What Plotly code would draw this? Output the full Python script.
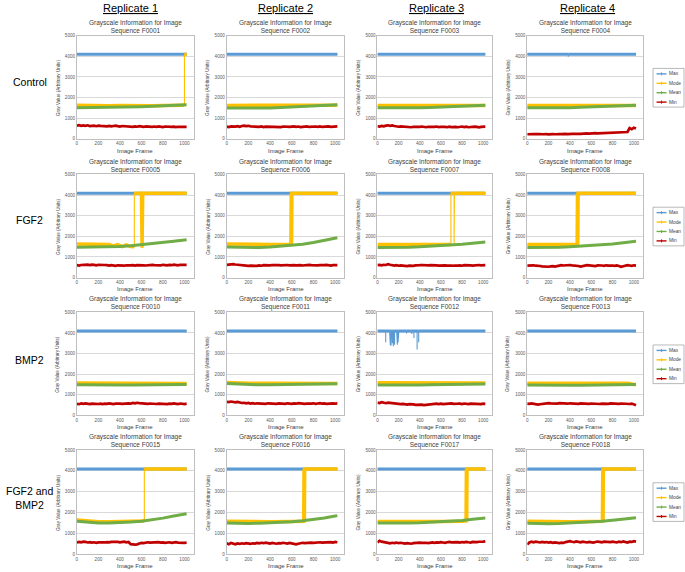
import plotly.graph_objects as go

# ---------------- data ----------------
frames = [0, 20, 40, 60, 80, 100, 120, 140, 160, 180, 200, 220, 240, 260, 280, 300, 320, 340, 360, 380,
          400, 420, 440, 460, 480, 500, 520, 540, 560, 580, 600, 620, 640, 660, 680, 700, 720, 740, 760, 780,
          800, 820, 840, 860, 880, 900, 920, 940, 960, 980, 1000, 1020]
mean_frames = [0, 100, 200, 300, 400, 500, 600, 700, 800, 900, 1000, 1020]

replicates = ["Replicate 1", "Replicate 2", "Replicate 3", "Replicate 4"]
conditions = ["Control", "FGF2", "BMP2", "FGF2 and<br>BMP2"]
sequences = ["F0001", "F0002", "F0003", "F0004",
             "F0005", "F0006", "F0007", "F0008",
             "F0010", "F0011", "F0012", "F0013",
             "F0015", "F0016", "F0017", "F0018"]
series_names = ["Max", "Mode", "Mean", "Min"]
x_ticks = [0, 200, 400, 600, 800, 1000]
y_ticks = [0, 1000, 2000, 3000, 4000, 5000]

# Max paths (frame, value)
max_x_F0001 = [0, 1020]; max_y_F0001 = [4095, 4095]
max_x_F0002 = [0, 1020]; max_y_F0002 = [4095, 4095]
max_x_F0003 = [0, 1020]; max_y_F0003 = [4095, 4095]
max_x_F0004 = [0, 385, 385, 385, 1020]; max_y_F0004 = [4095, 4095, 3980, 4095, 4095]
max_x_F0005 = [0, 1020]; max_y_F0005 = [4095, 4095]
max_x_F0006 = [0, 1020]; max_y_F0006 = [4095, 4095]
max_x_F0007 = [0, 1020]; max_y_F0007 = [4095, 4095]
max_x_F0008 = [0, 1020]; max_y_F0008 = [4095, 4095]
max_x_F0010 = [0, 1020]; max_y_F0010 = [4095, 4095]
max_x_F0011 = [0, 1020]; max_y_F0011 = [4095, 4095]
max_x_F0012 = [0, 78, 78, 78, 115, 115, 115, 122, 122, 122, 128, 128, 128, 135, 135, 135, 142, 142, 142,
               150, 150, 150, 156, 156, 156, 162, 162, 162, 182, 182, 182, 188, 188, 188, 195, 195, 195,
               202, 202, 202, 275, 275, 275, 315, 315, 315, 325, 325, 325, 345, 345, 345, 375, 375, 375,
               390, 390, 390, 1020]
max_y_F0012 = [4095, 4095, 3545, 4095, 4095, 3460, 4095, 4095, 3400, 4095, 4095, 3380, 4095, 4095, 3420, 4095,
               4095, 3500, 4095, 4095, 3350, 4095, 4095, 3380, 4095, 4095, 3420, 4095, 4095, 3460, 4095,
               4095, 3420, 4095, 4095, 3540, 4095, 4095, 3600, 4095, 4095, 3975, 4095, 4095, 4020, 4095,
               4095, 3945, 4095, 4095, 3750, 4095, 4095, 3190, 4095, 4095, 3545, 4095, 4095]
max_x_F0013 = [0, 1020]; max_y_F0013 = [4095, 4095]
max_x_F0015 = [0, 1020]; max_y_F0015 = [4095, 4095]
max_x_F0016 = [0, 1020]; max_y_F0016 = [4095, 4095]
max_x_F0017 = [0, 1020]; max_y_F0017 = [4095, 4095]
max_x_F0018 = [0, 1020]; max_y_F0018 = [4095, 4095]

# Mode paths (frame, value)
mode_x_F0001 = [0, 100, 200, 300, 400, 500, 600, 700, 800, 900, 1000, 1000, 1020]
mode_y_F0001 = [1625, 1610, 1620, 1605, 1615, 1600, 1610, 1605, 1615, 1610, 1625, 4095, 4095]
mode_x_F0002 = [0, 200, 400, 600, 800, 1000, 1020]
mode_y_F0002 = [1620, 1615, 1605, 1615, 1610, 1630, 1640]
mode_x_F0003 = [0, 200, 400, 600, 800, 1000, 1020]
mode_y_F0003 = [1610, 1600, 1605, 1600, 1610, 1615, 1620]
mode_x_F0004 = [0, 200, 400, 600, 800, 1000, 1020]
mode_y_F0004 = [1615, 1605, 1600, 1605, 1610, 1615, 1620]
mode_x_F0005 = [0, 100, 200, 300, 340, 380, 420, 460, 500, 534, 534, 600, 606, 612, 1020]
mode_y_F0005 = [1630, 1620, 1610, 1600, 1540, 1600, 1500, 1590, 1500, 1490, 4095, 4095, 1450, 4095, 4095]
mode_x_F0006 = [0, 100, 200, 300, 400, 500, 592, 595, 598, 601, 1020]
mode_y_F0006 = [1630, 1615, 1600, 1600, 1605, 1600, 1610, 4095, 1600, 4095, 4095]
mode_x_F0007 = [0, 100, 200, 300, 400, 500, 600, 695, 695, 725, 725, 728, 728, 1020]
mode_y_F0007 = [1600, 1595, 1590, 1580, 1585, 1590, 1600, 1600, 4095, 4095, 1590, 1590, 4095, 4095]
mode_x_F0008 = [0, 100, 200, 300, 400, 468, 471, 474, 477, 1020]
mode_y_F0008 = [1610, 1600, 1590, 1595, 1600, 1600, 4095, 1600, 4095, 4095]
mode_x_F0010 = [0, 200, 400, 600, 800, 1000, 1020]
mode_y_F0010 = [1570, 1560, 1555, 1560, 1555, 1545, 1540]
mode_x_F0011 = [0, 100, 200, 400, 600, 800, 1000, 1020]
mode_y_F0011 = [1590, 1570, 1560, 1555, 1560, 1555, 1550, 1545]
mode_x_F0012 = [0, 200, 400, 600, 800, 1000, 1020]
mode_y_F0012 = [1580, 1575, 1570, 1575, 1570, 1575, 1570]
mode_x_F0013 = [0, 200, 400, 600, 800, 950, 1000, 1020]
mode_y_F0013 = [1560, 1555, 1550, 1555, 1550, 1555, 1500, 1495]
mode_x_F0015 = [0, 100, 200, 300, 400, 500, 627, 627, 1020]
mode_y_F0015 = [1640, 1580, 1560, 1560, 1570, 1580, 1590, 4095, 4095]
mode_x_F0016 = [0, 200, 400, 600, 710, 713, 716, 719, 1020]
mode_y_F0016 = [1580, 1560, 1560, 1570, 1580, 4095, 1580, 4095, 4095]
mode_x_F0017 = [0, 200, 400, 600, 800, 838, 841, 844, 847, 1020]
mode_y_F0017 = [1570, 1560, 1560, 1570, 1580, 1600, 4095, 1600, 4095, 4095]
mode_x_F0018 = [0, 200, 400, 600, 705, 708, 711, 714, 1020]
mode_y_F0018 = [1580, 1560, 1560, 1570, 1580, 4095, 1580, 4095, 4095]

# Mean (at mean_frames)
mean_F0001 = [1500, 1505, 1510, 1520, 1530, 1545, 1560, 1580, 1600, 1620, 1645, 1650]
mean_F0002 = [1490, 1485, 1480, 1480, 1495, 1515, 1540, 1565, 1590, 1620, 1650, 1655]
mean_F0003 = [1500, 1495, 1490, 1495, 1505, 1520, 1540, 1560, 1580, 1600, 1620, 1625]
mean_F0004 = [1500, 1495, 1495, 1500, 1510, 1525, 1545, 1565, 1585, 1605, 1625, 1630]
mean_F0005 = [1475, 1480, 1485, 1490, 1510, 1545, 1590, 1640, 1700, 1760, 1820, 1830]
mean_F0006 = [1480, 1465, 1450, 1455, 1480, 1515, 1560, 1620, 1700, 1800, 1910, 1930]
mean_F0007 = [1460, 1455, 1460, 1470, 1490, 1515, 1545, 1580, 1620, 1665, 1710, 1720]
mean_F0008 = [1460, 1455, 1460, 1470, 1490, 1520, 1550, 1590, 1630, 1690, 1750, 1760]
mean_F0010 = [1480, 1470, 1465, 1465, 1470, 1470, 1475, 1480, 1485, 1490, 1495, 1500]
mean_F0011 = [1540, 1510, 1490, 1480, 1480, 1485, 1490, 1500, 1510, 1520, 1530, 1535]
mean_F0012 = [1470, 1465, 1465, 1470, 1475, 1480, 1485, 1490, 1495, 1500, 1510, 1515]
mean_F0013 = [1470, 1460, 1455, 1455, 1460, 1465, 1470, 1475, 1480, 1485, 1490, 1495]
mean_F0015 = [1580, 1530, 1500, 1495, 1510, 1540, 1580, 1650, 1730, 1830, 1920, 1935]
mean_F0016 = [1500, 1480, 1475, 1480, 1500, 1525, 1560, 1600, 1660, 1740, 1830, 1850]
mean_F0017 = [1490, 1480, 1480, 1490, 1505, 1525, 1550, 1580, 1620, 1680, 1725, 1735]
mean_F0018 = [1480, 1465, 1465, 1475, 1495, 1520, 1550, 1580, 1630, 1690, 1740, 1750]

# Min (at frames)
min_F0001 = [640, 660, 625, 650, 630, 655, 620, 645, 635, 610, 640, 625, 615,
             630, 605, 625, 600, 620, 640, 615, 595, 620, 610, 590, 615, 600,
             580, 600, 585, 610, 590, 575, 600, 585, 605, 580, 595, 575, 600,
             585, 570, 595, 580, 600, 575, 590, 565, 585, 575, 595, 570, 580]
min_F0002 = [590, 570, 600, 580, 595, 610, 585, 620, 640, 615, 630, 605, 590,
             575, 595, 580, 600, 570, 590, 585, 600, 575, 595, 580, 590, 570,
             595, 580, 600, 575, 590, 605, 580, 595, 570, 590, 580, 600, 575,
             590, 570, 595, 580, 600, 575, 595, 585, 605, 580, 595, 575, 600]
min_F0003 = [610, 595, 625, 605, 640, 655, 630, 645, 620, 600, 585, 605, 590,
             575, 595, 580, 560, 585, 570, 590, 575, 595, 580, 560, 585, 570,
             590, 575, 595, 570, 585, 600, 580, 560, 585, 570, 590, 575, 560,
             580, 595, 570, 585, 560, 580, 565, 590, 575, 555, 580, 570, 590]
min_F0004 = [220, 235, 215, 230, 225, 210, 230, 220, 240, 225, 215, 235, 230,
             220, 240, 230, 225, 245, 235, 230, 250, 240, 235, 255, 245, 240,
             260, 250, 265, 255, 270, 260, 275, 265, 270, 280, 270, 285, 275,
             290, 285, 295, 290, 300, 295, 305, 310, 330, 520, 470, 540, 500]
min_F0005 = [600, 585, 610, 620, 640, 625, 605, 630, 615, 595, 620, 605, 590,
             610, 600, 580, 605, 590, 570, 595, 585, 600, 575, 595, 610, 590,
             600, 580, 605, 590, 610, 595, 585, 605, 590, 615, 600, 590, 610,
             595, 620, 605, 590, 615, 600, 625, 605, 590, 620, 610, 630, 615]
min_F0006 = [620, 640, 625, 650, 635, 620, 640, 610, 595, 580, 565, 575, 560,
             580, 565, 590, 575, 600, 585, 605, 590, 610, 595, 580, 600, 590,
             605, 590, 610, 595, 580, 600, 590, 610, 600, 585, 605, 595, 615,
             600, 590, 610, 595, 605, 585, 600, 615, 595, 580, 600, 590, 605]
min_F0007 = [600, 615, 590, 620, 610, 650, 620, 600, 585, 600, 575, 590, 570,
             580, 560, 575, 555, 570, 590, 580, 600, 610, 595, 605, 590, 600,
             585, 570, 590, 580, 595, 575, 590, 580, 600, 585, 575, 595, 580,
             590, 575, 600, 585, 570, 590, 580, 600, 585, 610, 595, 585, 600]
min_F0008 = [580, 590, 570, 595, 575, 585, 560, 540, 530, 545, 525, 540, 555,
             530, 560, 580, 600, 585, 605, 590, 610, 595, 580, 600, 560, 530,
             555, 580, 600, 590, 570, 585, 560, 590, 605, 585, 570, 595, 580,
             600, 585, 570, 590, 560, 520, 550, 580, 600, 585, 570, 595, 580]
min_F0010 = [560, 540, 575, 555, 580, 560, 545, 570, 555, 575, 550, 565, 545,
             570, 555, 580, 560, 545, 570, 585, 565, 555, 575, 560, 580, 565,
             600, 585, 610, 590, 575, 595, 580, 560, 575, 555, 570, 550, 565,
             555, 575, 560, 545, 570, 555, 580, 565, 550, 575, 560, 545, 570]
min_F0011 = [660, 640, 670, 650, 630, 655, 620, 600, 610, 585, 600, 575, 590,
             565, 585, 570, 555, 575, 560, 585, 570, 590, 575, 560, 580, 565,
             575, 560, 585, 570, 555, 580, 565, 590, 570, 585, 560, 575, 555,
             570, 585, 560, 575, 590, 565, 580, 555, 575, 560, 585, 570, 580]
min_F0012 = [620, 600, 640, 610, 590, 615, 600, 580, 565, 585, 560, 545, 560,
             540, 525, 545, 520, 530, 510, 525, 505, 520, 500, 515, 530, 545,
             560, 540, 565, 550, 570, 545, 560, 575, 555, 580, 560, 545, 565,
             570, 550, 575, 555, 545, 570, 560, 580, 555, 565, 545, 570, 560]
min_F0013 = [570, 555, 580, 560, 545, 520, 540, 560, 590, 575, 595, 580, 565,
             585, 570, 590, 575, 560, 580, 565, 585, 570, 555, 575, 560, 580,
             565, 585, 570, 555, 575, 560, 580, 565, 550, 570, 555, 575, 560,
             580, 565, 550, 570, 555, 575, 560, 545, 565, 550, 570, 520, 490]
min_F0015 = [560, 590, 570, 600, 585, 560, 575, 550, 570, 545, 565, 555, 575,
             560, 580, 565, 590, 600, 575, 590, 565, 580, 600, 570, 585, 480,
             450, 455, 470, 520, 545, 530, 555, 570, 550, 565, 545, 560, 575,
             550, 565, 540, 555, 570, 545, 560, 575, 550, 540, 560, 545, 550]
min_F0016 = [520, 480, 540, 500, 470, 510, 490, 520, 500, 530, 510, 490, 520,
             505, 535, 515, 545, 525, 550, 530, 510, 540, 520, 500, 530, 515,
             545, 525, 505, 535, 520, 490, 470, 500, 525, 545, 530, 550, 535,
             555, 540, 560, 545, 570, 550, 565, 580, 560, 575, 555, 585, 570]
min_F0017 = [560, 640, 600, 580, 560, 540, 520, 545, 530, 555, 525, 545, 520,
             505, 530, 510, 500, 525, 545, 530, 555, 540, 560, 545, 530, 555,
             560, 540, 565, 550, 575, 560, 545, 570, 590, 565, 580, 560, 575,
             555, 580, 565, 590, 570, 555, 585, 565, 575, 595, 580, 600, 615]
min_F0018 = [460, 560, 600, 570, 595, 575, 560, 590, 565, 580, 555, 575, 545,
             560, 535, 525, 550, 540, 580, 600, 620, 595, 580, 610, 590, 570,
             600, 585, 560, 590, 575, 550, 580, 605, 590, 570, 600, 585, 560,
             575, 600, 580, 560, 595, 575, 610, 590, 560, 600, 585, 620, 600]

# ---------------- assemble ----------------
g = globals()
panels = []
for seq in sequences:
    panels.append(dict(
        seq=seq,
        max_x=g["max_x_" + seq], max_y=g["max_y_" + seq],
        mode_x=g["mode_x_" + seq], mode_y=g["mode_y_" + seq],
        mean=g["mean_" + seq], min=g["min_" + seq],
    ))

W, H = 685, 572
BLUE, GOLD, GREEN, RED = "#5B9BD5", "#FFC000", "#70AD47", "#C00000"
FONT = "Liberation Sans, Arial, sans-serif"
col_px = [(76, 193), (226, 344), (377, 492), (527, 643)]
row_px = [(34, 138), (174, 278), (313, 417), (452, 557)]


def fx(p):
    return p / W


def fy(p):
    return 1 - p / H


def thick_path(xs, ys):
    ox, oy = [xs[0]], [ys[0]]
    for i in range(1, len(xs)):
        if xs[i] == xs[i - 1]:
            ox.append(None)
            oy.append(None)
        ox.append(xs[i])
        oy.append(ys[i])
    return ox, oy


fig = go.Figure()
annotations = []
shapes = []

for k, p in enumerate(panels):
    r, c = divmod(k, 4)
    s = "" if k == 0 else str(k + 1)
    xa, ya = "x" + s, "y" + s
    common = dict(xaxis=xa, yaxis=ya, mode="lines", hoverinfo="skip", showlegend=False)
    fig.add_trace(go.Scatter(x=p["max_x"], y=p["max_y"], line=dict(color=BLUE, width=1.1), **common))
    tx, ty = thick_path(p["max_x"], p["max_y"])
    fig.add_trace(go.Scatter(x=tx, y=ty, line=dict(color=BLUE, width=3), **common))
    fig.add_trace(go.Scatter(x=p["mode_x"], y=p["mode_y"], line=dict(color=GOLD, width=1.1), **common))
    tx, ty = thick_path(p["mode_x"], p["mode_y"])
    fig.add_trace(go.Scatter(x=tx, y=ty, line=dict(color=GOLD, width=3.5), **common))
    fig.add_trace(go.Scatter(x=mean_frames, y=p["mean"], line=dict(color=GREEN, width=3), **common))
    fig.add_trace(go.Scatter(x=frames, y=p["min"], line=dict(color=RED, width=2.7), **common))

    x0, x1 = col_px[c]
    y0, y1 = row_px[r]
    fig.update_layout(**{
        "xaxis" + s: dict(domain=[fx(x0), fx(x1)], range=[0, 1086], anchor=ya,
                          tickvals=x_ticks, ticktext=[str(v) for v in x_ticks],
                          tickfont=dict(size=4.6, color="#595959", family=FONT),
                          showgrid=False, zeroline=False, showline=True, mirror=True,
                          linecolor="#BFBFBF", linewidth=0.8, ticks="", fixedrange=True),
        "yaxis" + s: dict(domain=[fy(y1), fy(y0)], range=[0, 5000], anchor=xa,
                          tickvals=y_ticks, ticktext=[str(v) for v in y_ticks],
                          tickfont=dict(size=4.6, color="#595959", family=FONT),
                          showgrid=True, gridcolor="#D9D9D9", gridwidth=0.8,
                          zeroline=False, showline=True, mirror=True,
                          linecolor="#BFBFBF", linewidth=0.8, ticks="", fixedrange=True),
    })
    cx = (x0 + x1) / 2
    annotations.append(dict(x=fx(cx), y=fy(y0 - 9), xref="paper", yref="paper",
                            text="Grayscale Information for Image<br>Sequence " + p["seq"],
                            showarrow=False, xanchor="center", yanchor="middle",
                            font=dict(size=6.5, color="#404040", family=FONT)))
    annotations.append(dict(x=fx(cx), y=fy(y1 + 12), xref="paper", yref="paper",
                            text="Image Frame", showarrow=False, xanchor="center", yanchor="middle",
                            font=dict(size=6, color="#404040", family=FONT)))
    annotations.append(dict(x=fx(x0 - 19), y=fy((y0 + y1) / 2), xref="paper", yref="paper",
                            text="Gray Value (Arbitrary Units)", showarrow=False, textangle=-90,
                            xanchor="center", yanchor="middle",
                            font=dict(size=4.6, color="#404040", family=FONT)))

# column headers
header_cx = [130, 285, 436, 587]
for c, name in enumerate(replicates):
    annotations.append(dict(x=fx(header_cx[c]), y=fy(6), xref="paper", yref="paper",
                            text="<u>" + name + "</u>", showarrow=False, xanchor="center",
                            yanchor="middle", font=dict(size=11, color="#000000", family=FONT)))

# row labels
label_cy = [81, 220, 361, 500]
for r, name in enumerate(conditions):
    annotations.append(dict(x=fx(29), y=fy(label_cy[r]), xref="paper", yref="paper",
                            text=name, showarrow=False, xanchor="center", yanchor="middle",
                            font=dict(size=10.5, color="#000000", family=FONT)))

# per-row legends (drawn manually)
series_colors = [BLUE, GOLD, GREEN, RED]
for r in range(4):
    top = row_px[r][0] + 33
    shapes.append(dict(type="rect", xref="paper", yref="paper",
                       x0=fx(653), x1=fx(684), y0=fy(top + 39), y1=fy(top),
                       line=dict(color="#A6A6A6", width=0.8), fillcolor="white"))
    for i, nm in enumerate(series_names):
        yy = top + 5.5 + 9.5 * i
        shapes.append(dict(type="line", xref="paper", yref="paper",
                           x0=fx(656.5), x1=fx(666.5), y0=fy(yy), y1=fy(yy),
                           line=dict(color=series_colors[i], width=1.4)))
        shapes.append(dict(type="line", xref="paper", yref="paper",
                           x0=fx(661.5), x1=fx(661.5), y0=fy(yy - 1.5), y1=fy(yy + 1.5),
                           line=dict(color=series_colors[i], width=1)))
        annotations.append(dict(x=fx(667.5), y=fy(yy), xref="paper", yref="paper",
                                text=nm, showarrow=False, xanchor="left", yanchor="middle",
                                borderpad=0, font=dict(size=4.8, color="#404040", family=FONT)))

fig.update_layout(width=W, height=H, margin=dict(l=0, r=0, t=0, b=0),
                  paper_bgcolor="white", plot_bgcolor="white", showlegend=False,
                  annotations=annotations, shapes=shapes, font=dict(family=FONT))

fig.write_html("out.html", config={"displayModeBar": False},
               post_script="document.body.style.margin='0';document.body.style.overflow='hidden';")
